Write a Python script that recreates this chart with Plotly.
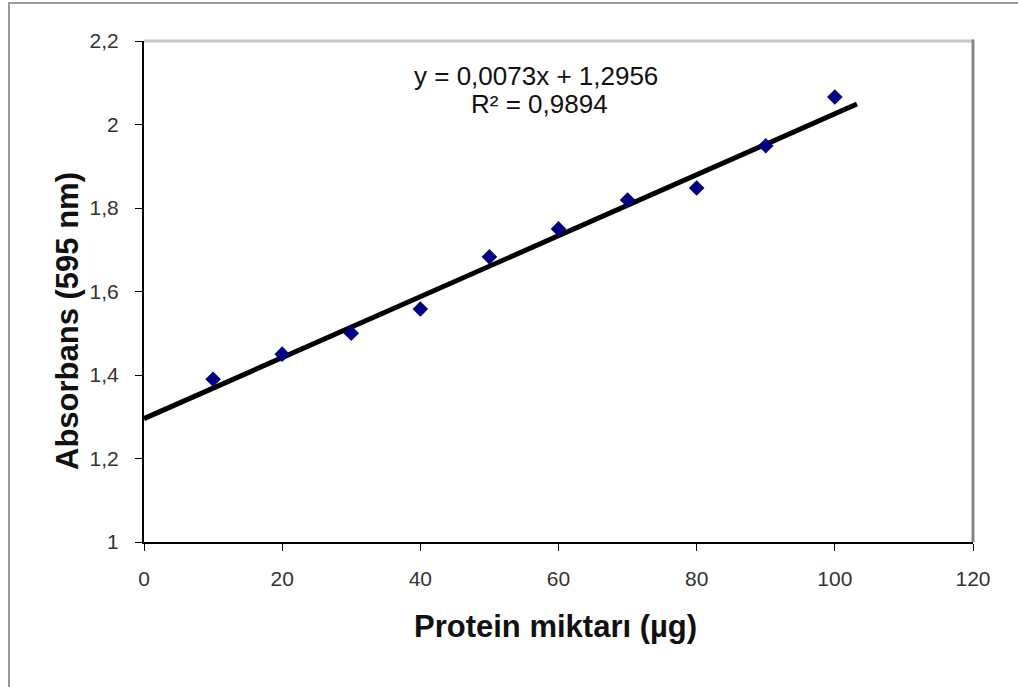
import plotly.graph_objects as go

protein = [10, 20, 30, 40, 50, 60, 70, 80, 90, 100]
absorbans = [1.39, 1.45, 1.50, 1.558, 1.683, 1.75, 1.819, 1.848, 1.949, 2.066]
trend_x = [0, 103.2]
trend_y = [1.2956, 2.049]
equation_line = "y = 0,0073x + 1,2956"
r2_line = "R² = 0,9894"
x_title = "Protein miktarı (µg)"
y_title = "Absorbans (595 nm)"

W, H = 1018, 687
L, R, T, B = 144, 45, 41, 145
pw, ph = W - L - R, H - T - B

def px(x):
    return (x - L) / pw

def py(y):
    return (H - B - y) / ph

fig = go.Figure()
fig.add_trace(go.Scatter(x=trend_x, y=trend_y, mode="lines",
                         line=dict(color="black", width=5), hoverinfo="skip"))
fig.add_trace(go.Scatter(x=protein, y=absorbans, mode="markers",
                         marker=dict(symbol="diamond", size=12, color="#000080")))

fig.update_layout(
    width=W, height=H,
    margin=dict(l=L, r=R, t=T, b=B),
    paper_bgcolor="white", plot_bgcolor="white",
    showlegend=False,
    separators=", ",
    font=dict(family="Liberation Sans, Arial, sans-serif", color="#222"),
    xaxis=dict(range=[0, 120], dtick=20, tick0=0, showgrid=False, zeroline=False,
               showline=True, linecolor="black", linewidth=2,
               ticks="outside", ticklen=7, tickcolor="black", tickwidth=1,
               tickfont=dict(size=21, color="#333"), ticklabelstandoff=10),
    yaxis=dict(range=[1, 2.2], dtick=0.2, tick0=1, showgrid=False, zeroline=False,
               showline=True, linecolor="black", linewidth=2,
               ticks="outside", ticklen=7, tickcolor="black", tickwidth=1,
               tickfont=dict(size=21, color="#333"), ticklabelstandoff=12),
    annotations=[
        dict(text=equation_line, x=px(536), y=py(76), xref="paper", yref="paper",
             showarrow=False, font=dict(size=26, color="#111"),
             xanchor="center", yanchor="middle"),
        dict(text=r2_line, x=px(539), y=py(104), xref="paper", yref="paper",
             showarrow=False, font=dict(size=26, color="#111"),
             xanchor="center", yanchor="middle"),
        dict(text="<b>" + x_title + "</b>", x=px(555), y=py(626), xref="paper", yref="paper",
             showarrow=False, font=dict(size=31, color="#111"),
             xanchor="center", yanchor="middle"),
        dict(text="<b>" + y_title + "</b>", x=px(67), y=py(321), xref="paper", yref="paper",
             showarrow=False, font=dict(size=31, color="#111"), textangle=-90,
             xanchor="center", yanchor="middle"),
    ],
    shapes=[
        dict(type="line", xref="paper", yref="paper", x0=0, x1=1, y0=1, y1=1,
             line=dict(color="#c8c8c8", width=3)),
        dict(type="line", xref="paper", yref="paper", x0=1, x1=1, y0=0, y1=1.003,
             line=dict(color="#858585", width=3)),
        dict(type="line", xref="paper", yref="paper", x0=px(9), x1=px(9), y0=py(3), y1=py(690),
             line=dict(color="#9a9a9a", width=2)),
        dict(type="line", xref="paper", yref="paper", x0=px(8), x1=px(1020), y0=py(3), y1=py(3),
             line=dict(color="#9a9a9a", width=2)),
    ],
)

fig.write_html("out.html")
